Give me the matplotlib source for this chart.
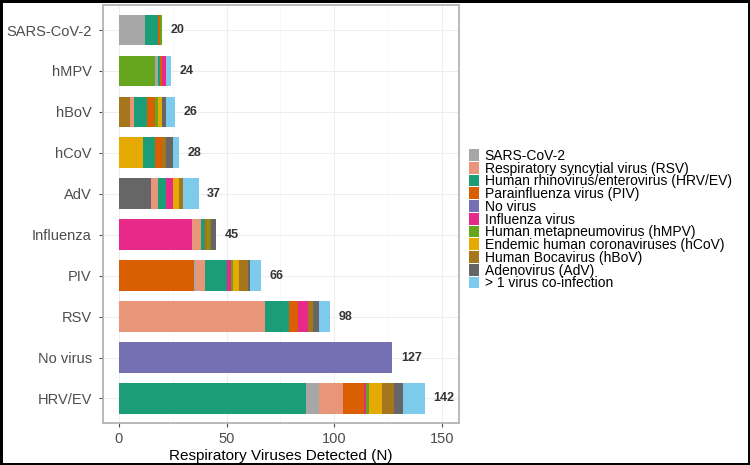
import numpy as np
import matplotlib
matplotlib.use("Agg")
import matplotlib.pyplot as plt
from matplotlib.patches import Patch

plt.rcParams['font.family'] = ['Liberation Sans', 'DejaVu Sans']

# bar categories, top to bottom
categories = ["SARS-CoV-2", "hMPV", "hBoV", "hCoV", "AdV", "Influenza",
              "PIV", "RSV", "No virus", "HRV/EV"]
# series (legend order) that forms the first segment of each bar
primary = ["sars", "hmpv", "hbov", "hcov", "adv", "flu",
           "piv", "rsv", "novirus", "hrv"]

# counts per series, one value for each category above
sars    = [12, 1, 0, 0, 0, 0, 1, 0, 0, 6]
rsv     = [0, 0, 2, 0, 3, 4, 4, 68, 0, 11]
hrv     = [6, 1, 6, 6, 4, 2, 10, 11, 0, 87]
piv     = [1, 1, 4, 3, 0, 1, 35, 4, 0, 10]
novirus = [0, 0, 0, 0, 0, 0, 0, 0, 127, 0]
flu     = [0, 2, 0, 0, 3, 34, 2, 5, 0, 1]
hmpv    = [1, 17, 1, 0, 0, 1, 1, 0, 0, 1]
hcov    = [0, 0, 2, 11, 3, 0, 3, 0, 0, 6]
hbov    = [0, 0, 5, 2, 2, 1, 4, 2, 0, 6]
adv     = [0, 0, 2, 3, 15, 2, 1, 3, 0, 4]
coinf   = [0, 2, 4, 3, 7, 0, 5, 5, 0, 10]

series_keys = ["sars", "rsv", "hrv", "piv", "novirus", "flu",
               "hmpv", "hcov", "hbov", "adv", "coinf"]
series_labels = ["SARS-CoV-2", "Respiratory syncytial virus (RSV)",
                 "Human rhinovirus/enterovirus (HRV/EV)", "Parainfluenza virus (PIV)",
                 "No virus", "Influenza virus", "Human metapneumovirus (hMPV)",
                 "Endemic human coronaviruses (hCoV)", "Human Bocavirus (hBoV)",
                 "Adenovirus (AdV)", "> 1 virus co-infection"]
colors = ["#A7A7A7", "#E8957A", "#1B9E77", "#D95F02", "#7570B3", "#E7298A",
          "#66A61E", "#E6AB02", "#A6761D", "#666666", "#7DCBEC"]

data = dict(zip(series_keys, [sars, rsv, hrv, piv, novirus, flu,
                              hmpv, hcov, hbov, adv, coinf]))
col = dict(zip(series_keys, colors))

fig = plt.figure(figsize=(7.5, 4.65), dpi=100, linewidth=2.5, edgecolor="black")
ax = fig.add_axes([0.1373, 0.0903, 0.4747, 0.898])

# grid
for v in [0, 50, 100, 150]:
    ax.axvline(v, color="#EEEEEE", lw=0.8, zorder=0)
for v in [25, 75, 125]:
    ax.axvline(v, color="#F6F6F6", lw=0.5, zorder=0)
for i in range(len(categories)):
    ax.axhline(i, color="#EEEEEE", lw=0.8, zorder=0)

totals = []
for i, cat in enumerate(categories):
    order = [primary[i]] + [k for k in series_keys if k != primary[i]]
    left = 0
    for k in order:
        w = data[k][i]
        if w > 0:
            ax.barh(i, w, left=left, height=0.75, color=col[k], lw=0, zorder=2)
        left += w
    totals.append(left)

for i, t in enumerate(totals):
    ax.text(t + 4, i, str(t), va="center", ha="left", fontsize=9,
            fontweight="bold", color="#333333")

ax.set_xlim(-7.4, 158)
ax.set_ylim(len(categories) - 0.4, -0.6)
ax.set_yticks(range(len(categories)))
ax.set_yticklabels(categories)
ax.set_xticks([0, 50, 100, 150])
ax.tick_params(axis="both", colors="#4D4D4D", labelsize=10.5, length=3, width=0.8)
ax.tick_params(axis="y", pad=5)
ax.set_xlabel("Respiratory Viruses Detected (N)", fontsize=11, color="black", labelpad=2)

for s in ax.spines.values():
    s.set_color("#B3B3B3")
    s.set_linewidth(1.3)

handles = [Patch(facecolor=c, edgecolor="none") for c in colors]
fig.legend(handles, series_labels, loc="upper left", bbox_to_anchor=(0.625, 0.68),
           frameon=False, fontsize=10, handlelength=0.72, handleheight=0.9,
           handletextpad=0.42, labelspacing=-0.09, borderpad=0, borderaxespad=0)

fig.savefig("out.png", dpi=100, edgecolor=fig.get_edgecolor())
